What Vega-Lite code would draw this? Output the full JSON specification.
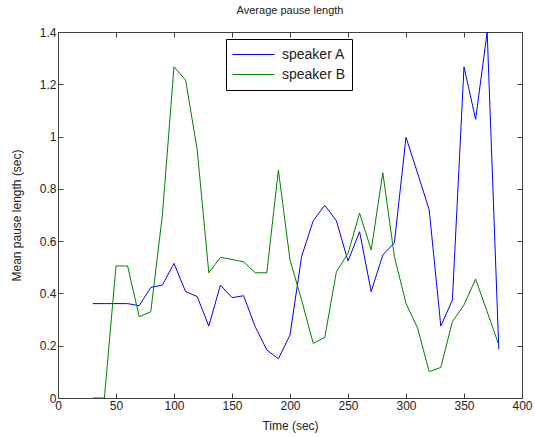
{
  "$schema": "https://vega.github.io/schema/vega-lite/v6.json",
  "width": 464,
  "height": 366,
  "autosize": {"type": "none"},
  "padding": {"left": 58, "top": 32, "right": 13, "bottom": 39},
  "config": {
    "font": "Liberation Sans",
    "view": {"stroke": "#404040", "strokeWidth": 1},
    "axis": {"labelFont": "Liberation Sans", "titleFont": "Liberation Sans", "labelFontSize": 12, "titleFontSize": 12, "labelColor": "#222222", "titleColor": "#222222", "titleFontWeight": "normal", "grid": false, "domainColor": "#404040", "tickColor": "#404040", "tickSize": -5, "labelPadding": 7, "labelFlush": false}
  },
  "title": {"text": "Average pause length", "fontSize": 11, "fontWeight": "normal", "font": "Liberation Sans", "offset": 10, "color": "#222222"},
  "data": {"values": [
    {"t": 30, "s": "speaker A", "v": 0.361}, {"t": 40, "s": "speaker A", "v": 0.361}, {"t": 50, "s": "speaker A", "v": 0.361}, {"t": 60, "s": "speaker A", "v": 0.361},
    {"t": 70, "s": "speaker A", "v": 0.353}, {"t": 80, "s": "speaker A", "v": 0.423}, {"t": 90, "s": "speaker A", "v": 0.432}, {"t": 100, "s": "speaker A", "v": 0.515},
    {"t": 110, "s": "speaker A", "v": 0.407}, {"t": 120, "s": "speaker A", "v": 0.388}, {"t": 130, "s": "speaker A", "v": 0.275}, {"t": 140, "s": "speaker A", "v": 0.432},
    {"t": 150, "s": "speaker A", "v": 0.384}, {"t": 160, "s": "speaker A", "v": 0.391}, {"t": 170, "s": "speaker A", "v": 0.273}, {"t": 180, "s": "speaker A", "v": 0.184},
    {"t": 190, "s": "speaker A", "v": 0.150}, {"t": 200, "s": "speaker A", "v": 0.241}, {"t": 210, "s": "speaker A", "v": 0.541}, {"t": 220, "s": "speaker A", "v": 0.678},
    {"t": 230, "s": "speaker A", "v": 0.737}, {"t": 240, "s": "speaker A", "v": 0.678}, {"t": 250, "s": "speaker A", "v": 0.524}, {"t": 260, "s": "speaker A", "v": 0.636},
    {"t": 270, "s": "speaker A", "v": 0.407}, {"t": 280, "s": "speaker A", "v": 0.547}, {"t": 290, "s": "speaker A", "v": 0.594}, {"t": 300, "s": "speaker A", "v": 0.997},
    {"t": 310, "s": "speaker A", "v": 0.860}, {"t": 320, "s": "speaker A", "v": 0.720}, {"t": 330, "s": "speaker A", "v": 0.275}, {"t": 340, "s": "speaker A", "v": 0.375},
    {"t": 350, "s": "speaker A", "v": 1.267}, {"t": 360, "s": "speaker A", "v": 1.066}, {"t": 370, "s": "speaker A", "v": 1.400}, {"t": 380, "s": "speaker A", "v": 0.186},
    {"t": 30, "s": "speaker B", "v": 0}, {"t": 40, "s": "speaker B", "v": 0}, {"t": 50, "s": "speaker B", "v": 0.505}, {"t": 60, "s": "speaker B", "v": 0.505},
    {"t": 70, "s": "speaker B", "v": 0.311}, {"t": 80, "s": "speaker B", "v": 0.330}, {"t": 90, "s": "speaker B", "v": 0.700}, {"t": 100, "s": "speaker B", "v": 1.267},
    {"t": 110, "s": "speaker B", "v": 1.216}, {"t": 120, "s": "speaker B", "v": 0.950}, {"t": 130, "s": "speaker B", "v": 0.479}, {"t": 140, "s": "speaker B", "v": 0.538},
    {"t": 150, "s": "speaker B", "v": 0.530}, {"t": 160, "s": "speaker B", "v": 0.521}, {"t": 170, "s": "speaker B", "v": 0.479}, {"t": 180, "s": "speaker B", "v": 0.479},
    {"t": 190, "s": "speaker B", "v": 0.872}, {"t": 200, "s": "speaker B", "v": 0.528}, {"t": 210, "s": "speaker B", "v": 0.375}, {"t": 220, "s": "speaker B", "v": 0.209},
    {"t": 230, "s": "speaker B", "v": 0.232}, {"t": 240, "s": "speaker B", "v": 0.483}, {"t": 250, "s": "speaker B", "v": 0.553}, {"t": 260, "s": "speaker B", "v": 0.707},
    {"t": 270, "s": "speaker B", "v": 0.566}, {"t": 280, "s": "speaker B", "v": 0.862}, {"t": 290, "s": "speaker B", "v": 0.541}, {"t": 300, "s": "speaker B", "v": 0.362},
    {"t": 310, "s": "speaker B", "v": 0.267}, {"t": 320, "s": "speaker B", "v": 0.101}, {"t": 330, "s": "speaker B", "v": 0.117}, {"t": 340, "s": "speaker B", "v": 0.292},
    {"t": 350, "s": "speaker B", "v": 0.356}, {"t": 360, "s": "speaker B", "v": 0.455}, {"t": 370, "s": "speaker B", "v": 0.330}, {"t": 380, "s": "speaker B", "v": 0.203}
  ]},
  "resolve": {"axis": {"x": "independent", "y": "independent"}},
  "layer": [
    {
      "mark": {"type": "line", "strokeWidth": 1, "clip": true},
      "encoding": {
        "x": {"field": "t", "type": "quantitative", "scale": {"domain": [0, 400], "nice": false}, "axis": {"orient": "bottom", "title": "Time (sec)", "values": [0, 50, 100, 150, 200, 250, 300, 350, 400], "titlePadding": 9}},
        "y": {"field": "v", "type": "quantitative", "scale": {"domain": [0, 1.4], "nice": false, "zero": false}, "axis": {"orient": "left", "title": "Mean pause length (sec)", "values": [0, 0.2, 0.4, 0.6, 0.8, 1, 1.2, 1.4], "format": ".1~f", "titlePadding": 16}},
        "color": {"field": "s", "type": "nominal", "scale": {"domain": ["speaker A", "speaker B"], "range": ["#0000ff", "#008000"]},
          "legend": {"title": null, "orient": "none", "legendX": 168, "legendY": 7, "symbolType": "stroke", "symbolSize": 1764, "symbolStrokeWidth": 1, "clipHeight": 19, "labelFontSize": 14, "labelFont": "Liberation Sans", "labelColor": "#222222", "strokeColor": "black", "fillColor": "white", "padding": 6, "rowPadding": 1, "labelOffset": 7}}
      }
    },
    {
      "mark": {"type": "line", "opacity": 0, "clip": true},
      "encoding": {
        "x": {"field": "t", "type": "quantitative", "scale": {"domain": [0, 400], "nice": false}, "axis": {"orient": "top", "title": null, "labels": false, "values": [0, 50, 100, 150, 200, 250, 300, 350, 400]}},
        "y": {"field": "v", "type": "quantitative", "scale": {"domain": [0, 1.4], "nice": false, "zero": false}, "axis": {"orient": "right", "title": null, "labels": false, "values": [0, 0.2, 0.4, 0.6, 0.8, 1, 1.2, 1.4]}},
        "detail": {"field": "s", "type": "nominal"}
      }
    }
  ]
}
